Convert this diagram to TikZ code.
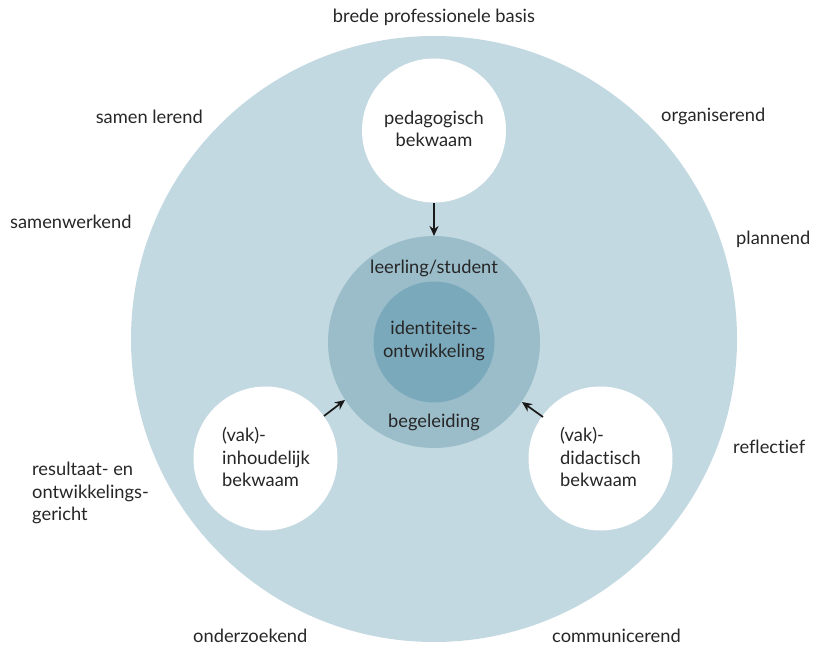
\documentclass[tikz,border=0pt]{standalone}
\usepackage{fontspec}
\setmainfont{Lato}[Ligatures=NoCommon]
\usetikzlibrary{arrows.meta}
\definecolor{outerc}{HTML}{C3D9E1}
\definecolor{midc}{HTML}{9BBDCA}
\definecolor{innerc}{HTML}{7BA9BC}
\definecolor{txt}{HTML}{262626}
\begin{document}
\begin{tikzpicture}[x=1pt,y=-1pt,
  lbl/.style={font=\fontsize{18.3}{22.5}\selectfont, text=txt, inner sep=0pt},
  whitec/.style={circle, fill=white, minimum size=144pt, inner sep=0pt},
  arr/.style={-{Stealth[length=10pt,width=9pt]}, line width=1.7pt, draw=black!90}
]
\useasboundingbox (0,0) rectangle (817,650);
\fill[outerc] (434,339) circle (303);
\node[circle, fill=midc, minimum size=212pt, inner sep=0pt] (mid) at (434,342) {};
\node[circle, fill=innerc, minimum size=121pt, inner sep=0pt] (inner) at (434,342) {};

\node[whitec] (top) at (434,130.5) {};
\node[whitec] (left) at (265.5,458.5) {};
\node[whitec] (right) at (600.5,458.5) {};

\node[lbl, align=center] (toptxt) at (434,129) {pedagogisch\\bekwaam};
\node[lbl, align=left, anchor=west] (lefttxt) at (222,457) {(vak)-\\inhoudelijk\\bekwaam};
\node[lbl, align=left, anchor=west] (righttxt) at (560,457) {(vak)-\\didactisch\\bekwaam};

\node[lbl] (ls) at (434,268) {leerling/student};
\node[lbl, align=center] (id) at (434,341) {identiteits-\\ontwikkeling};
\node[lbl] (beg) at (434,422) {begeleiding};

\coordinate (a1s) at (434,203);
\coordinate (a1e) at (434,236);
\coordinate (a2s) at (324,416);
\coordinate (a2e) at (345,400);
\coordinate (a3s) at (543,417);
\coordinate (a3e) at (522,402);
\draw[arr] (a1s) -- (a1e);
\draw[arr] (a2s) -- (a2e);
\draw[arr] (a3s) -- (a3e);

\node[lbl] (t1) at (434,17) {brede professionele basis};
\node[lbl, anchor=east] (t2) at (203,117) {samen lerend};
\node[lbl, anchor=west] (t3) at (10,222) {samenwerkend};
\node[lbl, anchor=west] (t4) at (661,116) {organiserend};
\node[lbl, anchor=west] (t5) at (736,239) {plannend};
\node[lbl, anchor=west] (t6) at (733,447) {reflectief};
\node[lbl, anchor=west, align=left] (t7) at (32,493) {resultaat- en\\ontwikkelings-\\gericht};
\node[lbl, anchor=west] (t8) at (193,636) {onderzoekend};
\node[lbl, anchor=west] (t9) at (552,636) {communicerend};
\end{tikzpicture}
\end{document}
